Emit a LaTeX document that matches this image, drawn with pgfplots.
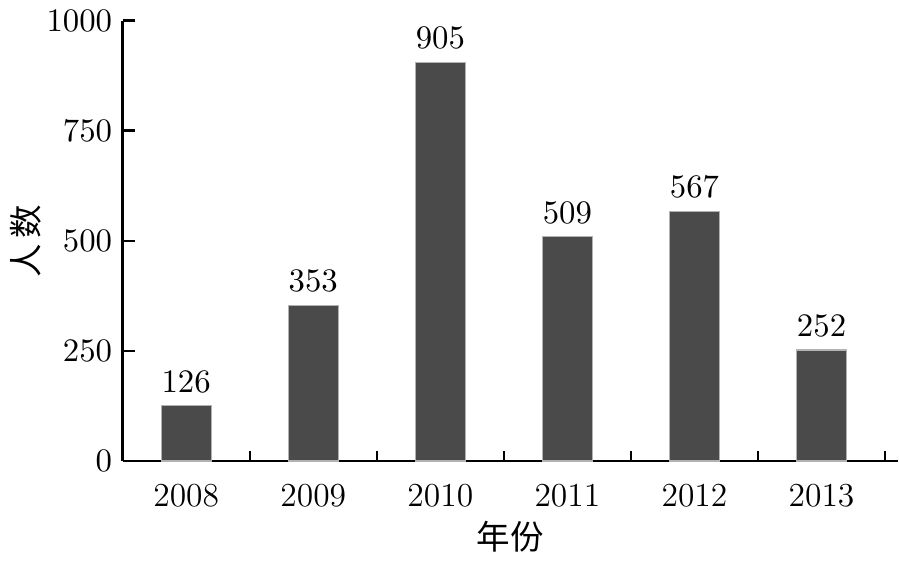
\documentclass[border=0pt]{standalone}
\usepackage{pgfplots}
\pgfplotsset{compat=1.18}
\usepackage{fontspec}
\newfontfamily\cjk{Noto Sans CJK SC}
\definecolor{barfill}{HTML}{4A4A4A}
\begin{document}
\begin{tikzpicture}[font=\fontsize{11.2}{13}\selectfont]
  \begin{axis}[
      width=259pt, height=147.2pt, scale only axis,
      axis lines*=left,
      axis line style={line width=0.8pt},
      xmin=-0.5, xmax=5.6,
      ymin=0, ymax=1000,
      xtick={0,1,2,3,4,5},
      xticklabels={2008,2009,2010,2011,2012,2013},
      extra x ticks={0.5,1.5,2.5,3.5,4.5,5.5},
      extra x tick labels={},
      extra x tick style={tick align=inside, major tick length=3.3pt,
        major x tick style={draw=black, line width=0.8pt}},
      ytick={0,250,500,750,1000},
      yticklabel style={/pgf/number format/1000 sep={}},
      tick align=inside,
      major x tick style={draw=none},
      major y tick style={line width=0.8pt, black},
      major tick length=4.2pt,
      xlabel={\cjk 年份},
      ylabel={\cjk 人\,数},
      xlabel style={yshift=6.5pt},
      ylabel style={yshift=-5pt},
      ybar, bar width=16.7pt,
      nodes near coords,
      every node near coord/.append style={yshift=1pt},
    ]
    \addplot[fill=barfill, draw=gray!60, line width=0.4pt] coordinates {
      (0,126) (1,353) (2,905) (3,509) (4,567) (5,252)
    };
  \end{axis}
\end{tikzpicture}
\end{document}
